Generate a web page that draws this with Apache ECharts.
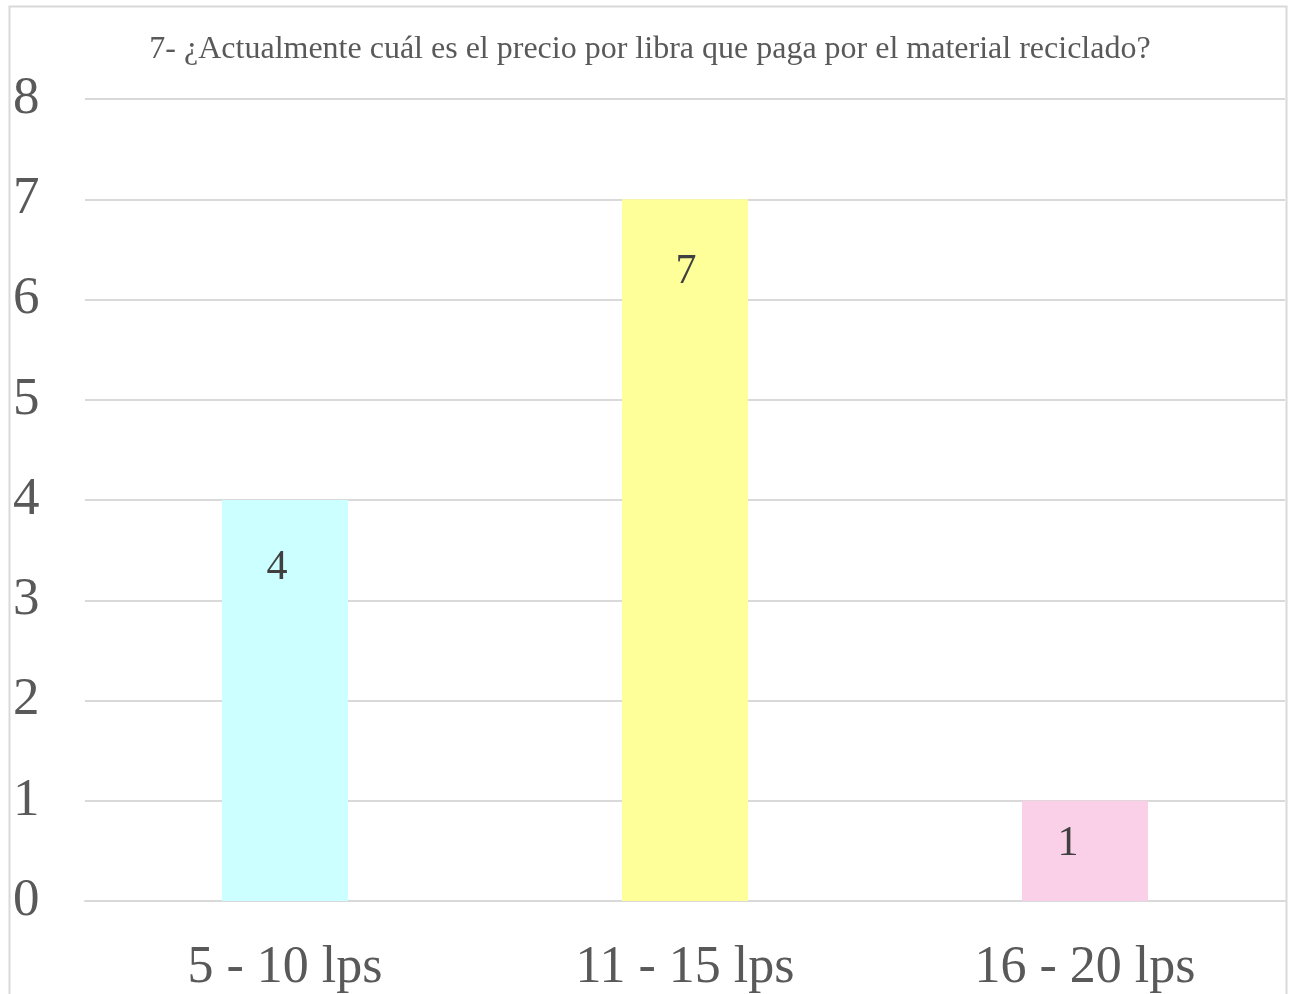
<!DOCTYPE html>
<html>
<head>
<meta charset="utf-8">
<script src="https://cdn.jsdelivr.net/npm/echarts@6/dist/echarts.min.js"></script>
<style>
html,body{margin:0;padding:0;background:#fff;}
#c{width:1289px;height:994px;}
</style>
</head>
<body>
<div id="c"></div>
<script>
const title = "7- ¿Actualmente cuál es el precio por libra que paga por el material reciclado?";
const categories = ["5 - 10 lps", "11 - 15 lps", "16 - 20 lps"];
const values = [4, 7, 1];
const barColors = ["#CCFFFF", "#FFFF99", "#FAD0E8"];
const labelDistances = [47, 52, 22];
const labelShiftX = [-8, 1, -17];

const serif = '"Liberation Serif", "Times New Roman", serif';
const chart = echarts.init(document.getElementById('c'));
chart.setOption({
  animation: false,
  backgroundColor: '#fff',
  title: {
    text: title,
    left: 645, top: 29, textAlign: 'center',
    textStyle: {fontFamily: serif, fontSize: 32, fontWeight: 'normal', color: '#595959'}
  },
  graphic: [{
    type: 'rect', shape: {x: 9.5, y: 6.5, width: 1277, height: 1000},
    style: {fill: 'none', stroke: '#D9D9D9', lineWidth: 2}, silent: true
  }],
  grid: {left: 85, right: 4, top: 99, bottom: 93},
  xAxis: {
    type: 'category', data: categories,
    axisLine: {show: true, lineStyle: {color: '#D9D9D9', width: 2}},
    axisTick: {show: false},
    axisLabel: {fontFamily: serif, fontSize: 52, color: '#595959', margin: 41}
  },
  yAxis: {
    type: 'value', min: 0, max: 8, interval: 1,
    axisLine: {show: false}, axisTick: {show: false},
    splitLine: {lineStyle: {color: '#D9D9D9', width: 2}},
    axisLabel: {fontFamily: serif, fontSize: 53, color: '#595959', align: 'left', margin: 72,
                padding: [6, 0, 0, 0]}
  },
  series: [{
    type: 'bar', barWidth: 126,
    data: values.map((v, i) => ({
      value: v,
      itemStyle: {color: barColors[i]},
      label: {distance: labelDistances[i], offset: [labelShiftX[i], 0]}
    })),
    label: {show: true, position: 'insideTop', fontFamily: serif, fontSize: 42, color: '#404040'}
  }]
});
</script>
</body>
</html>
